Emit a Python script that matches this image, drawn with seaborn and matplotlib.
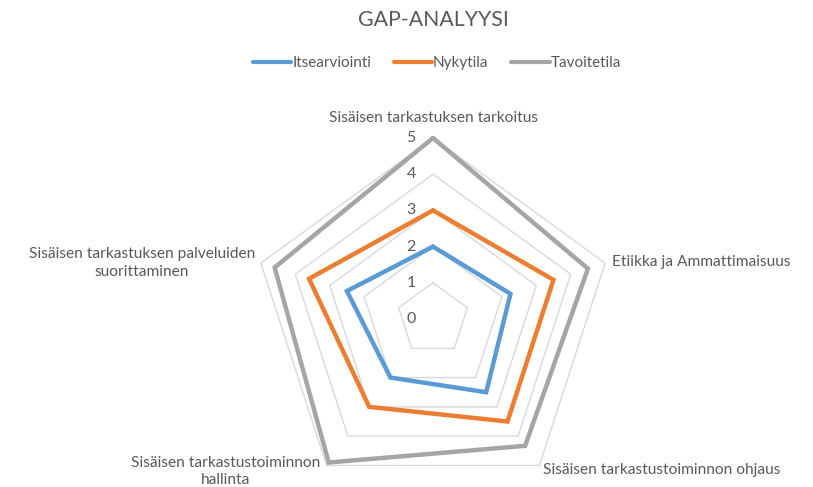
import numpy as np
import pandas as pd
import seaborn as sns
import matplotlib
matplotlib.use("Agg")
import matplotlib.pyplot as plt

# Data
categories = ["Sisäisen tarkastuksen tarkoitus",
              "Etiikka ja Ammattimaisuus",
              "Sisäisen tarkastustoiminnon ohjaus",
              "Sisäisen tarkastustoiminnon\nhallinta",
              "Sisäisen tarkastuksen palveluiden\nsuorittaminen"]
series_names = ["Itsearviointi", "Nykytila", "Tavoitetila"]
itsearviointi = [2, 2.25, 2.5, 2, 2.5]
nykytila = [3, 3.5, 3.5, 3, 3.6]
tavoitetila = [5, 4.5, 4.33, 4.9, 4.6]
ticks = [0, 1, 2, 3, 4, 5]

colors = ["#5B9BD5", "#ED7D31", "#A5A5A5"]

sns.set_theme(style="white")
plt.rcParams['font.family'] = ['Lato', 'DejaVu Sans']

# Long-form table, closing each polygon
angles = np.linspace(0, 2 * np.pi, len(categories), endpoint=False)
angles_closed = np.append(angles, 2 * np.pi)
rows = []
for name, vals in zip(series_names, [itsearviointi, nykytila, tavoitetila]):
    vals_closed = list(vals) + [vals[0]]
    for a, v in zip(angles_closed, vals_closed):
        rows.append({"kulma": a, "arvo": v, "sarja": name})
df = pd.DataFrame(rows)

fig = plt.figure(figsize=(8.13, 4.87), dpi=100)
cx, cy, R = 433, 487 - 319, 181
ax = fig.add_axes([(cx - R) / 813, (cy - R) / 487, 2 * R / 813, 2 * R / 487], projection="polar")
ax.set_theta_zero_location("N")
ax.set_theta_direction(-1)
ax.set_ylim(0, 5)
ax.grid(False)
ax.spines["polar"].set_visible(False)
ax.set_xticks([])
ax.set_yticks([])
ax.patch.set_visible(False)

# Pentagon gridlines
for t in ticks[1:]:
    ax.plot(angles_closed, [t] * len(angles_closed), color="#D9D9D9", lw=1, zorder=1, clip_on=False)

sns.lineplot(data=df, x="kulma", y="arvo", hue="sarja", palette=colors, sort=False,
             estimator=None, units="sarja", lw=3.2, ax=ax, zorder=3)
for line in ax.get_lines():
    line.set_clip_on(False)
    line.set_solid_joinstyle("miter")

# Value labels along the top axis
for t in ticks:
    ax.annotate(str(t), xy=(0, t), xytext=(-22, 0), textcoords="offset pixels",
                ha="center", va="center", fontsize=11.5, color="#595959")

# Category labels
offsets = [(0, 20), (7, 1), (4, -5), (-6, -6), (-6, 0)]
aligns = ["center", "left", "left", "right", "right"]
for a, lab, off, ha in zip(angles, categories, offsets, aligns):
    ax.annotate(lab, xy=(a, 5), xytext=off, textcoords="offset pixels",
                ha=ha, va="center", multialignment="center", linespacing=1.3,
                fontsize=11.2, color="#595959")

handles, labels = ax.get_legend_handles_labels()
ax.get_legend().remove()
for h in handles:
    h.set_linewidth(3)
fig.legend(handles, labels, loc="center", bbox_to_anchor=(437 / 813, 1 - 63 / 487), ncol=3,
           frameon=False, fontsize=11, handlelength=2.5, handletextpad=0.05, columnspacing=1.5,
           labelcolor="#595959")

fig.text(433 / 813, 1 - 20 / 487, "GAP-ANALYYSI", ha="center", va="center", fontsize=15.3, color="#595959")

fig.savefig("out.png", dpi=100)
